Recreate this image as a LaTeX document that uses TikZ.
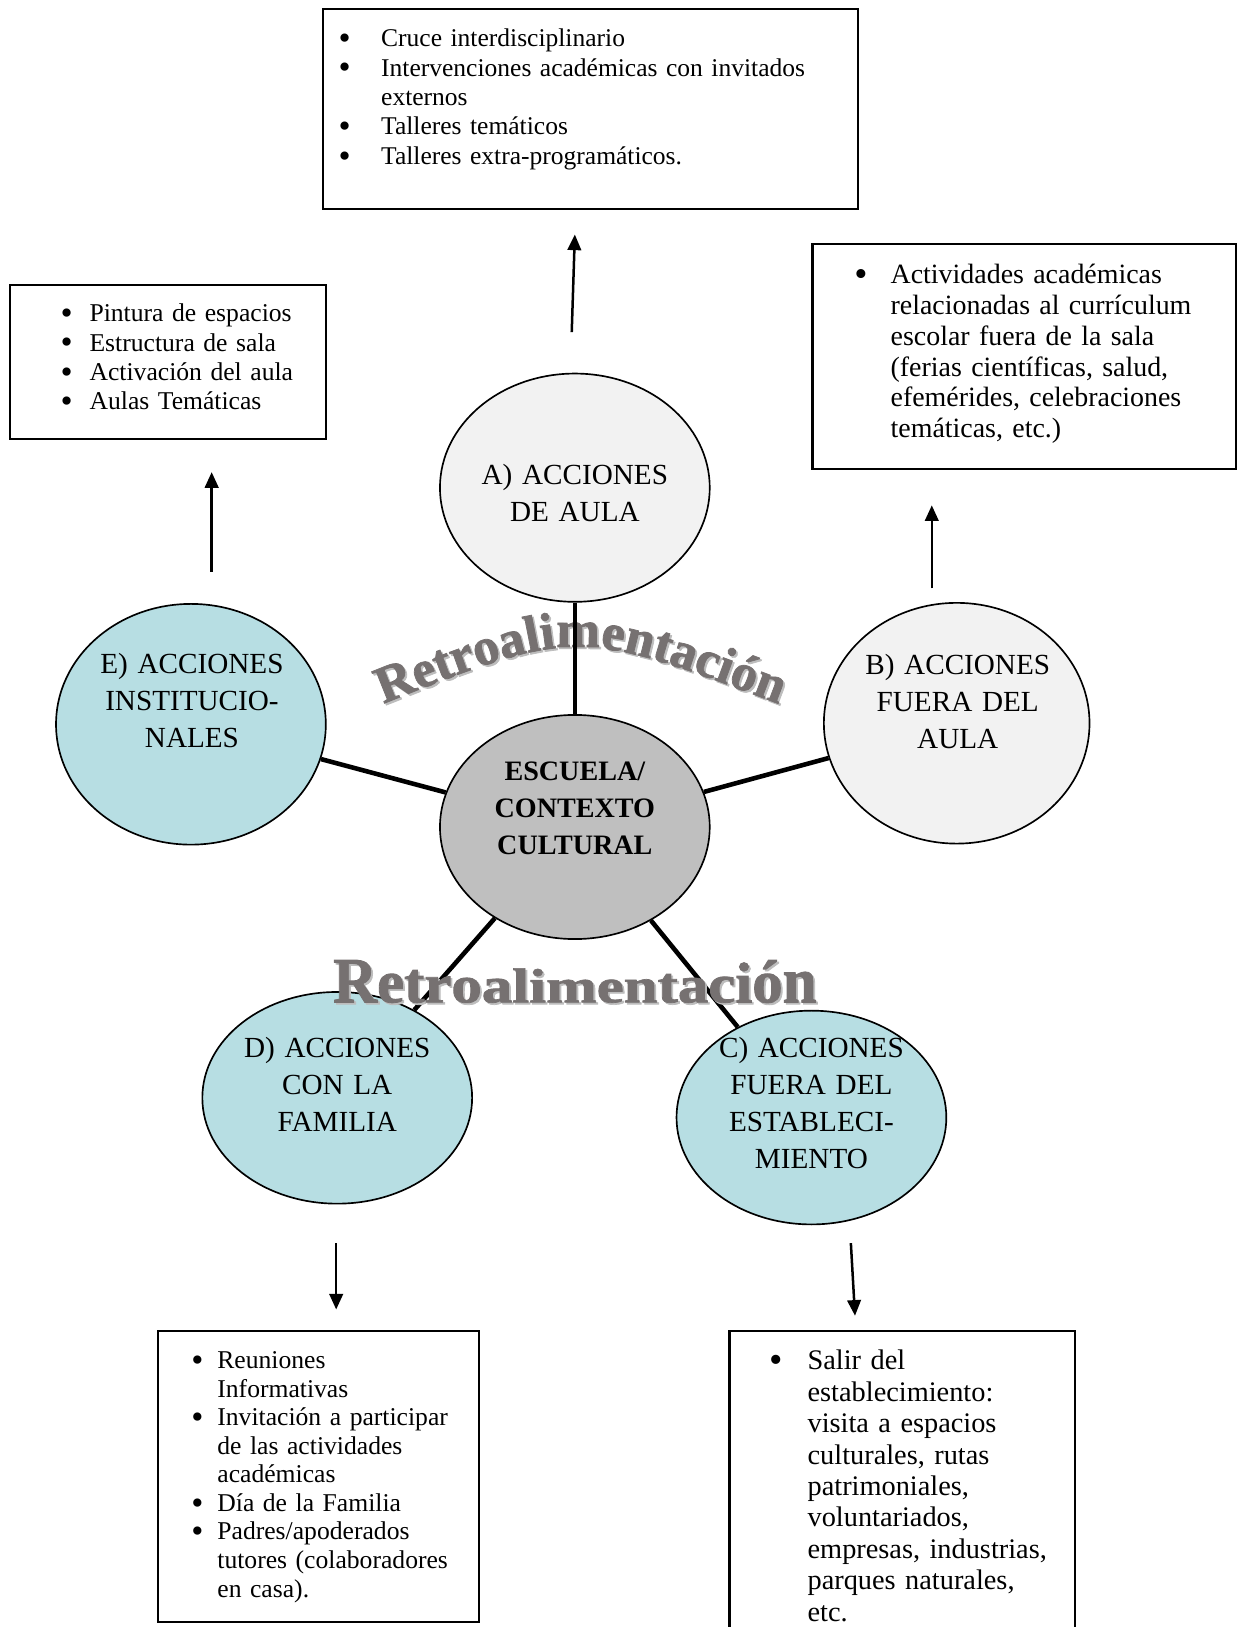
\documentclass[tikz,border=0pt]{standalone}
\usepackage{fontspec}
\setmainfont{Liberation Serif}
\newfontfamily\heavyfont{Liberation Serif Bold}[FakeBold=1.4]
\usepackage{graphicx}
\usetikzlibrary{arrows.meta,shapes.geometric,decorations.text}
\definecolor{ellgray}{HTML}{F2F2F2}
\definecolor{ellblue}{HTML}{B7DEE3}
\definecolor{ctrgray}{HTML}{BFBFBF}
\definecolor{retro}{HTML}{767171}
\definecolor{retroshade}{HTML}{BDBDBD}
\newlength{\bhang}
\newcommand{\bitem}{\hangindent=\bhang\hangafter=1\noindent\makebox[\bhang][l]{\raisebox{-0.11em}{\scalebox{1.35}{\textbullet}}}}
\newcommand{\vsc}[2]{\scalebox{1}[#1]{#2}}
\newcommand{\retroword}{\vsc{1.35}{R}\vsc{1.268}{e}\vsc{1.197}{t}\vsc{1.137}{r}\vsc{1.088}{o}\vsc{1.049}{a}\vsc{1.022}{l}\vsc{1.006}{i}\vsc{1}{m}\vsc{1.006}{e}\vsc{1.022}{n}\vsc{1.049}{t}\vsc{1.088}{a}\vsc{1.137}{c}\vsc{1.197}{i}\vsc{1.268}{ó}\vsc{1.35}{n}}
\begin{document}
\begin{tikzpicture}[x=0.498pt,y=-0.498pt,
  box/.style={draw, line width=1pt, inner sep=0pt, outer sep=0pt, anchor=north west},
  ell/.style={ellipse, draw, line width=0.8pt, inner sep=0pt},
  conn/.style={line width=2.2pt},
  arr/.style={line width=1.2pt, -{Triangle[length=7.5pt,width=6.5pt]}},
  etext/.style={anchor=base, align=center, text width=140pt, inner sep=0pt, font=\fontsize{14}{17.8}\selectfont},
  ctext/.style={anchor=base, align=center, text width=140pt, inner sep=0pt, font=\bfseries\fontsize{13.5}{17.7}\selectfont},
  btext/.style={anchor=base west, inner sep=0pt},
  retrotop/.style={decorate, decoration={text along path, text align=center,
     text={|\heavyfont\fontsize{25}{25}\selectfont\color{#1}|Retroalimentación}}}
]
\def\ux{0.498pt}
\useasboundingbox (0,0) rectangle (1195,1568);
\clip (0,0) rectangle (1195,1568);

% boxes
\node[box, minimum width=516*\ux, minimum height=192*\ux] (bxA) at (311,9) {};
\node[box, minimum width=304*\ux, minimum height=148*\ux] (bxE) at (10,275) {};
\node[box, minimum width=408*\ux, minimum height=217*\ux] (bxB) at (783,235) {};
\node[box, minimum width=310*\ux, minimum height=280*\ux] (bxD) at (152,1283) {};
\node[box, minimum width=333*\ux, minimum height=340*\ux] (bxC) at (703,1283) {};

% box texts
\node[btext, text width=245pt, font=\fontsize{12.25}{14.1}\selectfont] (lA) at (326,45)
 {\raggedright\setlength{\bhang}{20.4pt}\bitem Cruce interdisciplinario\par\bitem Intervenciones académicas con invitados\newline externos\par\bitem Talleres temáticos\par\bitem Talleres extra-programáticos.\par};
\node[btext, text width=140pt, font=\fontsize{12.3}{14.1}\selectfont] (lE) at (58,310)
 {\raggedright\setlength{\bhang}{13.9pt}\bitem Pintura de espacios\par\bitem Estructura de sala\par\bitem Activación del aula\par\bitem Aulas Temáticas\par};
\node[btext, text width=190pt, font=\fontsize{13.4}{14.84}\selectfont] (lB) at (823,273)
 {\raggedright\setlength{\bhang}{17.4pt}\bitem Actividades académicas\newline relacionadas al currículum\newline escolar fuera de la sala\newline (ferias científicas, salud,\newline efemérides, celebraciones\newline temáticas, etc.)\par};
\node[btext, text width=150pt, font=\fontsize{12.3}{13.7}\selectfont] (lD) at (184,1319)
 {\raggedright\setlength{\bhang}{12.5pt}\bitem Reuniones\newline Informativas\par\bitem Invitación a participar\newline de las actividades\newline académicas\par\bitem Día de la Familia\par\bitem Padres/apoderados\newline tutores (colaboradores\newline en casa).\par};
\node[btext, text width=160pt, font=\fontsize{13.6}{15.1}\selectfont] (lC) at (741,1320)
 {\raggedright\setlength{\bhang}{18.4pt}\bitem Salir del\newline establecimiento:\newline visita a espacios\newline culturales, rutas\newline patrimoniales,\newline voluntariados,\newline empresas, industrias,\newline parques naturales,\newline etc.\par};

% ellipses
\node[ell, fill=ellgray, minimum width=260*\ux, minimum height=220*\ux] (A) at (554,470) {};
\node[ell, fill=ellgray, minimum width=256*\ux, minimum height=232*\ux] (B) at (922,697) {};
\node[ell, fill=ellblue, minimum width=260*\ux, minimum height=232*\ux] (E) at (184,698) {};
\node[ell, fill=ctrgray, minimum width=260*\ux, minimum height=216*\ux] (S) at (554,797) {};
\node[ell, fill=ellblue, minimum width=260*\ux, minimum height=204*\ux] (D) at (325,1058) {};
\node[ell, fill=ellblue, minimum width=260*\ux, minimum height=206*\ux] (C) at (782,1077) {};

\node[etext] (tA) at (554,467) {A) ACCIONES\\DE AULA};
\node[etext] (tB) at (923,650) {B) ACCIONES\\FUERA DEL\\AULA};
\node[etext] (tE) at (185,649) {E) ACCIONES\\INSTITUCIO-\\NALES};
\node[ctext] (tS) at (554,752) {ESCUELA/\\CONTEXTO\\CULTURAL};
\node[etext] (tD) at (325,1019) {D) ACCIONES\\CON LA\\FAMILIA};
\node[etext] (tC) at (782,1019) {C) ACCIONES\\FUERA DEL\\ESTABLECI-\\MIENTO};

% top WordArt
\path[retrotop=retroshade, shift={(1.8,1.8)}] (360,682) .. controls (555,604) .. (760,682);
\path[retrotop=retro] (360,682) .. controls (555,604) .. (760,682);

% connectors
\draw[conn] (A) -- (S);
\draw[conn] (E) -- (S);
\draw[conn] (B) -- (S);
\draw[conn] (D) -- (S);
\draw[conn] (C) -- (S);

% arrows
\coordinate (a1s) at (551,320); \coordinate (a1e) at (554,226);
\coordinate (a2s) at (204,551); \coordinate (a2e) at (204,455);
\coordinate (a3s) at (898,567); \coordinate (a3e) at (898,487);
\coordinate (a4s) at (324,1198); \coordinate (a4e) at (324,1262);
\coordinate (a5s) at (820,1198); \coordinate (a5e) at (824,1268);
\draw[arr] (a1s) -- (a1e);
\draw[arr] (a2s) -- (a2e);
\draw[arr] (a3s) -- (a3e);
\draw[arr] (a4s) -- (a4e);
\draw[arr] (a5s) -- (a5e);

% bottom WordArt
\node[anchor=base, inner sep=0pt, text=retroshade] (wbs) at (555.8,967.8)
 {\scalebox{1.27}[1]{\heavyfont\fontsize{23}{23}\selectfont\retroword}};
\node[anchor=base, inner sep=0pt, text=retro] (wb) at (554,966)
 {\scalebox{1.27}[1]{\heavyfont\fontsize{23}{23}\selectfont\retroword}};
\end{tikzpicture}
\end{document}
